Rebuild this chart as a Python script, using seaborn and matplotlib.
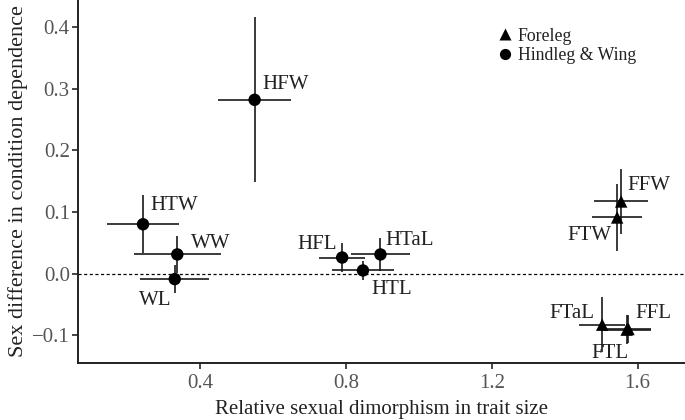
"""
Sex difference in condition dependence vs relative sexual dimorphism
"""

import pandas as pd
import matplotlib.pyplot as plt
import seaborn as sns

# data
traits = ['HFW', 'HTW', 'WW', 'WL', 'HFL', 'HTaL', 'HTL',
          'FFW', 'FTW', 'FTaL', 'FFL', 'FTL']
group = ['Hindleg & Wing'] * 7 + ['Foreleg'] * 5
dimorphism = [0.55, 0.244, 0.338, 0.331, 0.790, 0.895, 0.847,
              1.555, 1.544, 1.503, 1.575, 1.570]
dimorphism_err = [0.10, 0.10, 0.12, 0.095, 0.063, 0.08, 0.085,
                  0.074, 0.069, 0.063, 0.062, 0.066]
cond_dep = [0.282, 0.080, 0.031, -0.009, 0.026, 0.031, 0.005,
            0.117, 0.091, -0.083, -0.090, -0.091]
cond_dep_err = [0.134, 0.047, 0.030, 0.023, 0.024, 0.027, 0.015,
                0.053, 0.054, 0.045, 0.023, 0.023]
x_ticks = [0.4, 0.8, 1.2, 1.6]
y_ticks = [-0.1, 0.0, 0.1, 0.2, 0.3, 0.4]

# label placement (offset in pixels, alignment)
label_pos = {
    'HFW': (8, 15, 'left'), 'HTW': (7, 19, 'left'), 'WW': (14, 11, 'left'),
    'WL': (-3, -21, 'right'), 'HFL': (-5, 13, 'right'), 'HTaL': (5, 14, 'left'),
    'HTL': (8, -19, 'left'), 'FFW': (6, 16, 'left'), 'FTW': (-6, -18, 'right'),
    'FTaL': (-8, 11, 'right'), 'FFL': (7, 15, 'left'), 'FTL': (-17, -24, 'center'),
}

df = pd.DataFrame({'trait': traits, 'group': group, 'x': dimorphism,
                   'xerr': dimorphism_err, 'y': cond_dep, 'yerr': cond_dep_err})

sns.set_style("ticks")
plt.rcParams['font.family'] = ['Liberation Serif', 'DejaVu Serif']

fig = plt.figure(figsize=(6.85, 4.2), dpi=100)
ax = fig.add_axes([0.114, 0.136, 0.886, 0.864])

ax.axhline(0, color='black', linestyle=(0, (2.5, 2)), linewidth=0.9, zorder=1)
ax.errorbar(df['x'], df['y'], xerr=df['xerr'], yerr=df['yerr'], fmt='none',
            ecolor='#1a1a1a', elinewidth=1.2, capsize=0, zorder=2)
sns.scatterplot(data=df, x='x', y='y', style='group',
                markers={'Foreleg': '^', 'Hindleg & Wing': 'o'},
                hue='group', palette={'Foreleg': 'black', 'Hindleg & Wing': 'black'},
                s=80, edgecolor='none', style_order=['Foreleg', 'Hindleg & Wing'],
                hue_order=['Foreleg', 'Hindleg & Wing'], ax=ax, zorder=3)

for _, row in df.iterrows():
    dx, dy, ha = label_pos[row['trait']]
    ax.annotate(row['trait'], (row['x'], row['y']), xytext=(dx, dy),
                textcoords='offset pixels', ha=ha, va='center',
                fontsize=15, color='#222222')

ax.set_xlim(0.066, 1.73)
ax.set_ylim(-0.145, 0.444)
ax.set_xticks(x_ticks)
ax.set_yticks(y_ticks)
ax.set_xticklabels([f'{v:.1f}' for v in x_ticks])
ax.set_yticklabels([f'{v:.1f}'.replace('-', '\u2212') for v in y_ticks])
ax.tick_params(labelsize=15, labelcolor='#555555', length=4, width=1.2,
               direction='out', pad=2)
ax.tick_params(axis='x', pad=4)
ax.set_xlabel('Relative sexual dimorphism in trait size', fontsize=15,
              color='#222222', labelpad=5)
ax.set_ylabel('Sex difference in condition dependence', fontsize=16,
              color='#222222', labelpad=3)
for side in ['left', 'bottom']:
    ax.spines[side].set_linewidth(1.4)
    ax.spines[side].set_color('#222222')
sns.despine(ax=ax)

leg = ax.legend(loc='upper left', bbox_to_anchor=(0.66, 0.968), frameon=False,
                fontsize=12.8, handletextpad=0.1, labelspacing=0.15,
                markerscale=0.9, handlelength=1.2)
for t in leg.get_texts():
    t.set_color('#222222')

plt.savefig('out.png', dpi=100)
plt.close()
